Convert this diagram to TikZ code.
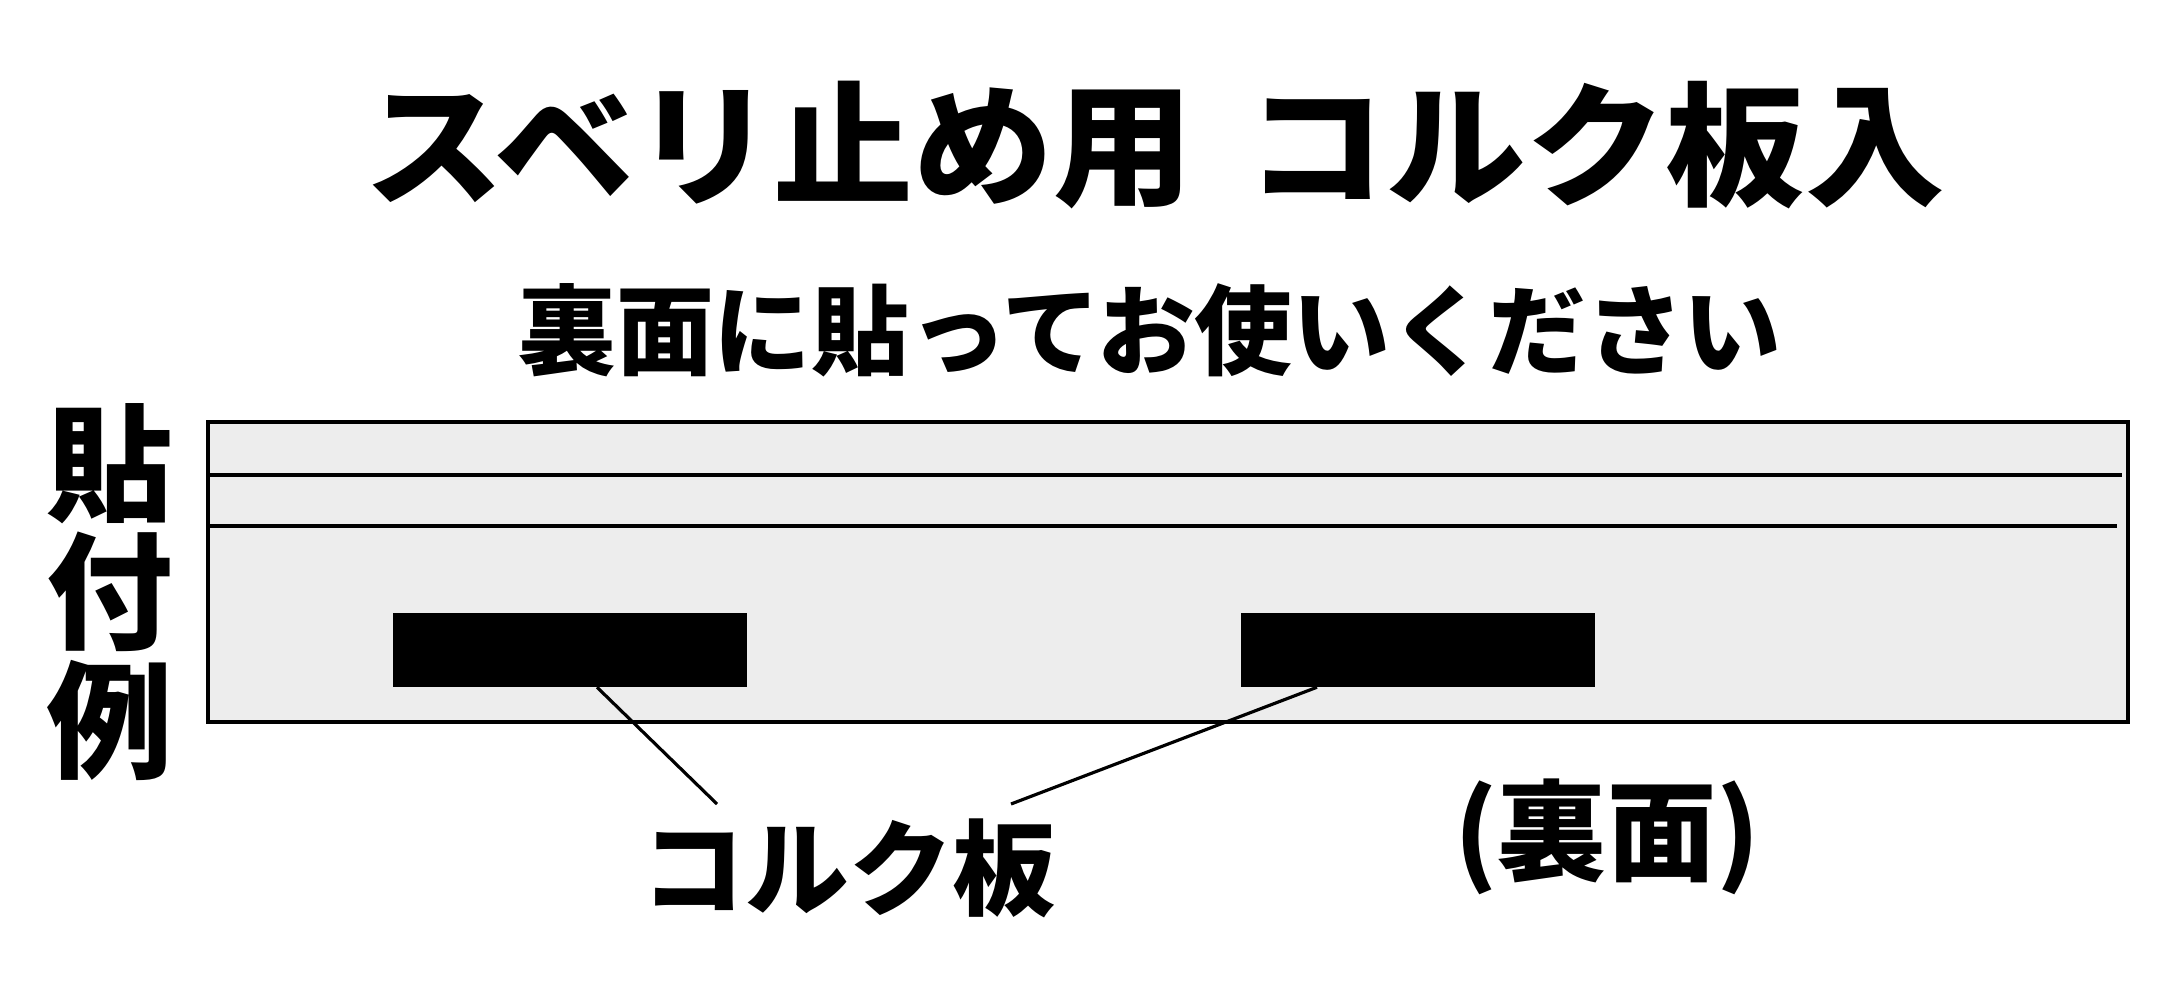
\documentclass[tikz,border=0pt]{standalone}
\usepackage{fontspec}
\usepackage{graphicx}
\setmainfont{Noto Sans CJK JP}

\begin{document}
\begin{tikzpicture}[x=0.01cm, y=-0.01cm,
  board/.style={draw, line width=1.2pt, fill=black!7},
  rule/.style={line width=1.2pt},
  pad/.style={fill=black, inner sep=0pt, minimum width=3.54cm, minimum height=0.73cm},
  leader/.style={line width=0.9pt},
  jptext/.style={inner sep=0pt, font=\bfseries}]
% Cork pad mounting example
\useasboundingbox (0,0) rectangle (2178,1000);
\node[jptext, font=\fontsize{38}{38}\selectfont\bfseries] (title) at (1155,145) {\scalebox{1.045}[1]{スベリ止め用 \hspace{6pt}コルク板入}};
\node[jptext, font=\fontsize{27.8}{28}\selectfont\bfseries] (sub) at (1150,330) {裏面に貼ってお使いください};
\node[jptext, align=center, font=\fontsize{36}{36.5}\selectfont\bfseries] (ex) at (110,592) {貼\\付\\例};
\draw[board] (208,422) rectangle (2128,722);
\draw[rule] (208,475) -- (2122,475);
\draw[rule] (208,526) -- (2117,526);
\node[pad] (pad1) at (570,650) {};
\node[pad] (pad2) at (1418,650) {};
\node[jptext, font=\fontsize{29.5}{30}\selectfont\bfseries] (cork) at (849,868) {コルク板};
\node[jptext, font=\fontsize{31}{31}\selectfont\bfseries] (back) at (1607,837) {(裏面)};
\coordinate (c1) at (717,804);
\coordinate (c2) at (1011,804);
\draw[leader] (pad1.south) ++(27,0) -- (c1);
\draw[leader] (pad2.south) ++(-101,0) -- (c2);
\end{tikzpicture}
\end{document}
